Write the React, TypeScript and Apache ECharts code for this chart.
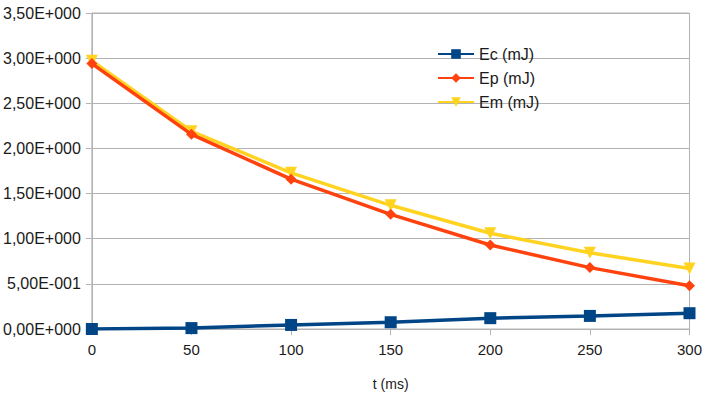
import React, { useEffect, useRef } from "react";
import * as echarts from "echarts";

const times = [0, 50, 100, 150, 200, 250, 300];
const ecValues = [0.0, 0.01, 0.045, 0.075, 0.12, 0.145, 0.175];
const epValues = [2.94, 2.156, 1.66, 1.27, 0.93, 0.68, 0.48];
const emValues = [2.97, 2.19, 1.73, 1.37, 1.06, 0.845, 0.67];
const seriesNames = ["Ec (mJ)", "Ep (mJ)", "Em (mJ)"];
const xAxisName = "t (ms)";

const FONT = "'Liberation Sans', Arial, sans-serif";

function sciFormat(v: number): string {
  if (Math.abs(v) < 1e-12) return "0,00E+000";
  const exp = Math.floor(Math.log10(Math.abs(v)) + 1e-9);
  const mant = v / Math.pow(10, exp);
  const sign = exp < 0 ? "-" : "+";
  const e = String(Math.abs(exp)).padStart(3, "0");
  return mant.toFixed(2).replace(".", ",") + "E" + sign + e;
}

export default function App() {
  const ref = useRef<HTMLDivElement>(null);
  useEffect(() => {
    if (!ref.current) return;
    const chart = echarts.init(ref.current, null, { renderer: "svg" });
    const pair = (vals: number[]) => times.map((t, i) => [t, vals[i]]);
    chart.setOption({
      animation: false,
      backgroundColor: "#ffffff",
      textStyle: { fontFamily: FONT },
      grid: {
        left: 91,
        right: 15,
        top: 13,
        bottom: 68,
        show: true,
        borderColor: "#b3b3b3",
        borderWidth: 1,
      },
      legend: {
        orient: "vertical",
        left: 432,
        top: 41,
        itemWidth: 36,
        itemHeight: 12,
        itemGap: 8,
        textStyle: { fontFamily: FONT, fontSize: 16, color: "#1a1a1a", lineHeight: 16 },
        data: seriesNames,
      },
      xAxis: {
        type: "value",
        min: 0,
        max: 300,
        interval: 50,
        name: xAxisName,
        nameLocation: "middle",
        nameGap: 48,
        nameTextStyle: { fontFamily: FONT, fontSize: 14, color: "#1a1a1a" },
        axisLine: { show: true, lineStyle: { color: "#b3b3b3", width: 1 } },
        axisTick: { show: true, length: 6, lineStyle: { color: "#b3b3b3" } },
        axisLabel: { fontFamily: FONT, fontSize: 15, color: "#1a1a1a", margin: 13 },
        splitLine: { show: false },
      },
      yAxis: {
        type: "value",
        min: 0,
        max: 3.5,
        interval: 0.5,
        axisLine: { show: true, lineStyle: { color: "#b3b3b3", width: 1 } },
        axisTick: { show: true, length: 6, lineStyle: { color: "#b3b3b3" } },
        axisLabel: {
          fontFamily: FONT,
          fontSize: 16,
          color: "#1a1a1a",
          margin: 11,
          formatter: (v: number) => sciFormat(v),
        },
        splitLine: { show: true, lineStyle: { color: "#b3b3b3", width: 1 } },
      },
      series: [
        {
          name: seriesNames[0],
          type: "line",
          data: pair(ecValues),
          symbol: "rect",
          symbolSize: 12,
          itemStyle: { color: "#004586" },
          lineStyle: { color: "#004586", width: 3.5 },
          z: 3,
        },
        {
          name: seriesNames[1],
          type: "line",
          data: pair(epValues),
          symbol: "diamond",
          symbolSize: 11,
          itemStyle: { color: "#ff420e" },
          lineStyle: { color: "#ff420e", width: 3.5 },
          z: 3,
        },
        {
          name: seriesNames[2],
          type: "line",
          data: pair(emValues),
          symbol: "triangle",
          symbolRotate: 180,
          symbolSize: 12,
          itemStyle: { color: "#ffd320" },
          lineStyle: { color: "#ffd320", width: 3.5 },
          z: 2,
        },
      ],
    });
    return () => chart.dispose();
  }, []);
  return (
    <div
      ref={ref}
      style={{ position: "fixed", left: 0, top: 0, width: 705, height: 397 }}
    />
  );
}
